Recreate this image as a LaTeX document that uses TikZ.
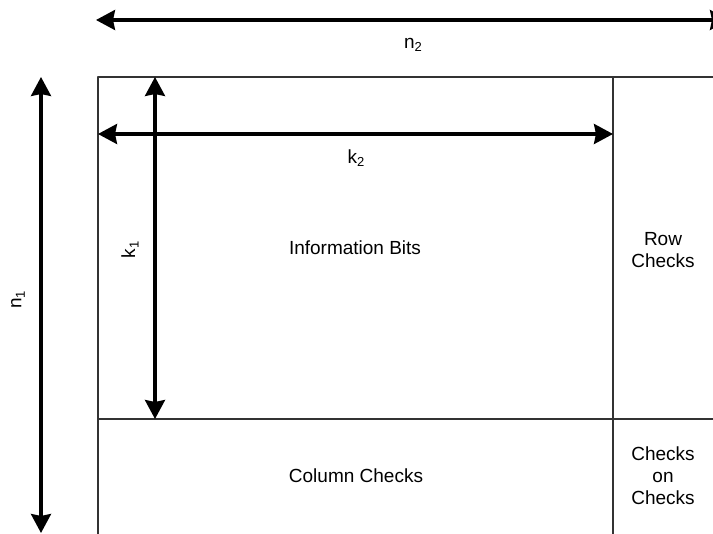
\documentclass[tikz,border=0pt]{standalone}
\usepackage{fontspec}
\setmainfont{Liberation Sans}
\usetikzlibrary{arrows.meta}
\newcommand{\lowsub}[1]{\raisebox{-0.35ex}{\fontsize{13}{13}\selectfont #1}}
\begin{document}
\begin{tikzpicture}[x=1pt,y=-1pt,>={Stealth[length=19pt,width=20pt,inset=2pt]},
	font=\fontsize{19}{22}\selectfont, line join=round,
	dim/.style={line width=3.2pt,<->},
	cell/.style={draw=black!80,line width=1.3pt},
	lbl/.style={inner sep=0pt,align=center}]
	\useasboundingbox (0,0) rectangle (713,534);
	\clip (0,0) rectangle (713,534);
	% grid of the product code
	\draw[cell] (98,77) rectangle (720,545);
	\draw[cell] (613,77) -- (613,545);
	\draw[cell] (98,419) -- (720,419);
	% end points of the dimension arrows
	\coordinate (n2l) at (96,20);
	\coordinate (n2r) at (729,20);
	\coordinate (n1t) at (41,77);
	\coordinate (n1b) at (41,533);
	\coordinate (k1t) at (155,77);
	\coordinate (k1b) at (155,419);
	\coordinate (k2l) at (98,134);
	\coordinate (k2r) at (613,134);
	\foreach \a/\b in {n2l/n2r,n1t/n1b,k1t/k1b,k2l/k2r}
		\draw[dim] (\a) -- (\b);
	\node[lbl] (n2) at (413,45) {n\lowsub{2}};
	\node[lbl] (k2) at (356,158) {k\lowsub{2}};
	\node[lbl,rotate=90] (n1) at (18,300) {n\lowsub{1}};
	\node[lbl,rotate=90] (k1) at (130,250) {k\lowsub{1}};
	\node[lbl] (info) at (355,248) {Information Bits};
	\node[lbl] (row) at (663,250) {Row\\Checks};
	\node[lbl] (col) at (356,476) {Column Checks};
	\node[lbl] (cc) at (663,476) {Checks\\on\\Checks};
\end{tikzpicture}
\end{document}
